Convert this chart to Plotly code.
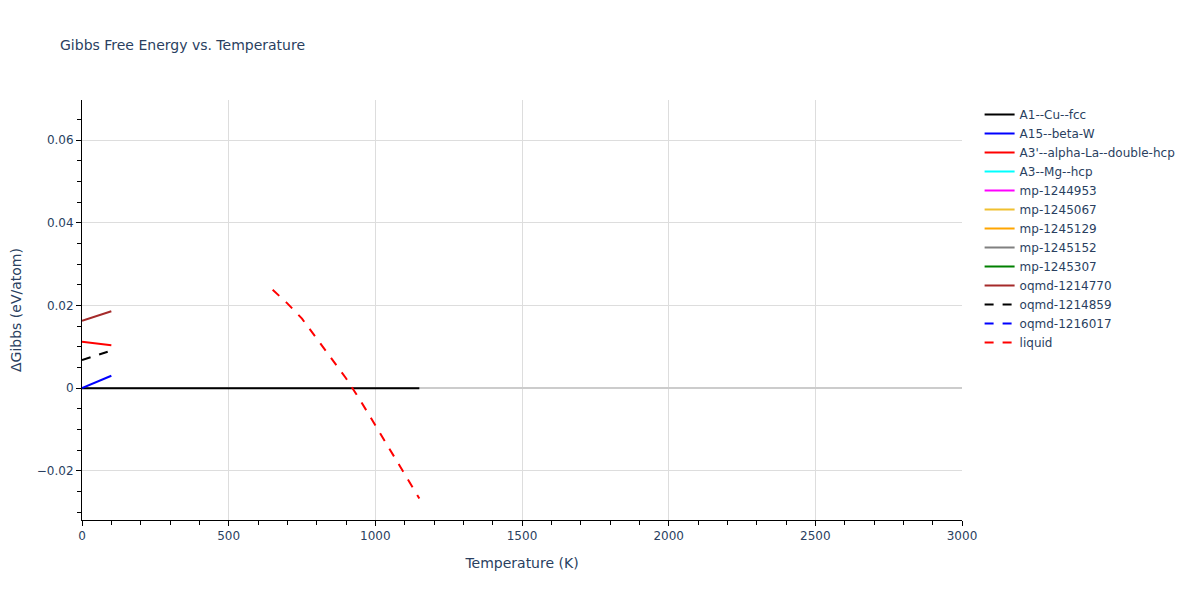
import plotly.graph_objects as go

# Data
T_cu = [0, 1150]
G_cu = [0.0, 0.0]

T_low = [0, 100]
G_a15 = [0.0, 0.0030]
G_a3p = [0.0112, 0.0104]
G_oq770 = [0.0163, 0.0186]
G_oq859 = [0.0068, 0.0091]

T_none = [None]
G_none = [None]

T_liq = [650, 700, 750, 800, 850, 900, 950, 1000, 1050, 1100, 1150]
G_liq = [0.0238, 0.0205, 0.0168, 0.0120, 0.0072, 0.0024, -0.0031, -0.0090, -0.0150, -0.0208, -0.0267]

series = [
    ("A1--Cu--fcc", T_cu, G_cu, "black", "solid"),
    ("A15--beta-W", T_low, G_a15, "blue", "solid"),
    ("A3'--alpha-La--double-hcp", T_low, G_a3p, "red", "solid"),
    ("A3--Mg--hcp", T_none, G_none, "cyan", "solid"),
    ("mp-1244953", T_none, G_none, "magenta", "solid"),
    ("mp-1245067", T_none, G_none, "#f0c030", "solid"),
    ("mp-1245129", T_none, G_none, "orange", "solid"),
    ("mp-1245152", T_none, G_none, "gray", "solid"),
    ("mp-1245307", T_none, G_none, "green", "solid"),
    ("oqmd-1214770", T_low, G_oq770, "brown", "solid"),
    ("oqmd-1214859", T_low, G_oq859, "black", "dash"),
    ("oqmd-1216017", T_none, G_none, "blue", "dash"),
    ("liquid", T_liq, G_liq, "red", "dash"),
]

fig = go.Figure()
for name, x, y, c, d in series:
    fig.add_trace(go.Scatter(x=x, y=y, mode="lines", name=name, showlegend=True,
                             line=dict(color=c, dash=d, width=2)))

fig.update_layout(
    width=1200, height=600,
    title=dict(text="Gibbs Free Energy vs. Temperature", x=52 / 1200, xanchor="left",
               y=1 - 37 / 600, yanchor="middle",
               font=dict(size=14, color="#2a3f5f")),
    font=dict(family="Verdana, DejaVu Sans, sans-serif", size=12, color="#2a3f5f"),
    plot_bgcolor="white", paper_bgcolor="white",
    margin=dict(l=74, r=246, t=92, b=88),
    legend=dict(x=1.02, y=1.0, xanchor="left", yanchor="top", font=dict(size=12)),
    showlegend=True,
)
fig.update_xaxes(title_text="Temperature (K)", range=[0, 3000], dtick=500,
                 showline=True, linecolor="black", linewidth=1,
                 ticks="outside", ticklen=5, tickcolor="black",
                 minor=dict(dtick=100, ticks="outside", ticklen=4, tickcolor="black", showgrid=False),
                 showgrid=True, gridcolor="#dddddd", zeroline=False)
fig.update_yaxes(title_text="ΔGibbs (eV/atom)", range=[-0.0319, 0.0697], dtick=0.02,
                 automargin=False,
                 showline=True, linecolor="black", linewidth=1,
                 ticks="outside", ticklen=5, tickcolor="black",
                 minor=dict(dtick=0.005, ticks="outside", ticklen=4, tickcolor="black", showgrid=False),
                 showgrid=True, gridcolor="#dddddd",
                 zeroline=True, zerolinecolor="#cccccc", zerolinewidth=2)

fig.write_html("out.html")
